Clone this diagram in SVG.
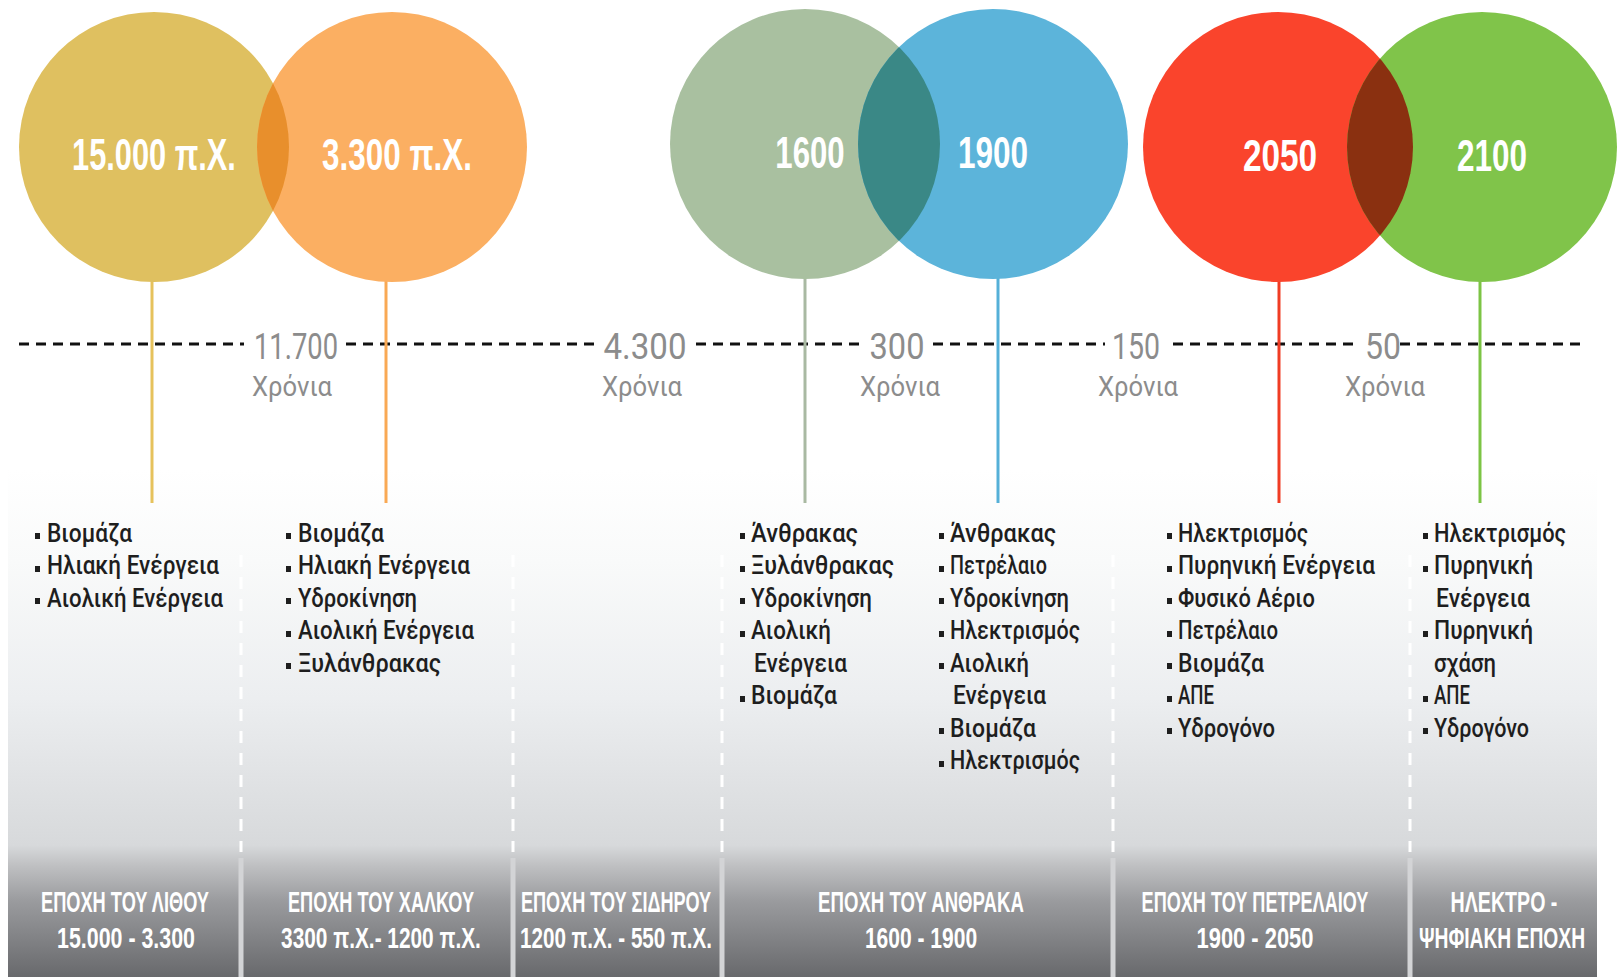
<svg xmlns="http://www.w3.org/2000/svg" width="1617" height="977" viewBox="0 0 1617 977">
  <defs>
    <linearGradient id="panelFill" gradientUnits="userSpaceOnUse" x1="0" y1="470" x2="0" y2="977">
      <stop offset="0" stop-color="#ffffff"/>
      <stop offset="0.18" stop-color="#f9fafa"/>
      <stop offset="0.45" stop-color="#eceef0"/>
      <stop offset="0.74" stop-color="#d7d9db"/>
      <stop offset="0.78" stop-color="#bfc0c2"/>
      <stop offset="0.85" stop-color="#9a9b9e"/>
      <stop offset="1" stop-color="#68696c"/>
    </linearGradient>
    <clipPath id="clipC2"><circle cx="392" cy="147" r="135"/></clipPath>
    <clipPath id="clipC4"><circle cx="993" cy="144" r="135"/></clipPath>
    <clipPath id="clipC6"><circle cx="1482" cy="147" r="135"/></clipPath>
  </defs>
  <style>
    .year { font-family: "Liberation Sans", Arial, sans-serif; font-weight: bold; font-size: 45px; fill: #ffffff; text-anchor: middle; }
    .gap { font-family: Roboto, "Liberation Sans", sans-serif; font-size: 36px; fill: #8c8c8c; text-anchor: middle; }
    .years { font-family: Roboto, "Liberation Sans", sans-serif; font-size: 28px; fill: #8c8c8c; text-anchor: middle; }
    .item { font-family: Roboto, "Noto Sans", sans-serif; font-weight: 500; font-size: 25px; fill: #1e1e1e; }
    .era { font-family: "Liberation Sans", Arial, sans-serif; font-weight: bold; font-size: 30px; fill: #ffffff; text-anchor: middle; }
    .dot { fill: #1e1e1e; }
    .timeline { stroke: #111111; stroke-width: 3; stroke-dasharray: 10 7; fill: none; }
    .stem { stroke-width: 3; fill: none; }
    .divDash { stroke: #ffffff; stroke-width: 3; stroke-dasharray: 12 10; fill: none; }
    .divSolid { fill: #d3d4d6; }
  </style>

  <!-- gradient panel behind the era columns -->
  <g id="panel">
    <rect x="8" y="470" width="1589" height="507" fill="url(#panelFill)"/>
    <line class="divDash" x1="241" y1="555" x2="241" y2="852"/>
    <line class="divDash" x1="513" y1="555" x2="513" y2="852"/>
    <line class="divDash" x1="722" y1="555" x2="722" y2="852"/>
    <line class="divDash" x1="1113" y1="555" x2="1113" y2="852"/>
    <line class="divDash" x1="1410" y1="555" x2="1410" y2="852"/>
    <rect class="divSolid" x="238.5" y="858" width="5" height="119"/>
    <rect class="divSolid" x="510.5" y="858" width="5" height="119"/>
    <rect class="divSolid" x="719.5" y="858" width="5" height="119"/>
    <rect class="divSolid" x="1110.5" y="858" width="5" height="119"/>
    <rect class="divSolid" x="1407.5" y="858" width="5" height="119"/>
  </g>

  <!-- timeline, stems and interval labels -->
  <g id="connectors">
    <line class="timeline" x1="19" y1="344" x2="244" y2="344"/>
    <line class="timeline" x1="346" y1="344" x2="594" y2="344"/>
    <line class="timeline" x1="696" y1="344" x2="864" y2="344"/>
    <line class="timeline" x1="933" y1="344" x2="1105" y2="344"/>
    <line class="timeline" x1="1173" y1="344" x2="1360" y2="344"/>
    <line class="timeline" x1="1400" y1="344" x2="1583" y2="344"/>

    <line class="stem" stroke="#e6c25c" x1="152" y1="260" x2="152" y2="503"/>
    <line class="stem" stroke="#f9a954" x1="386" y1="260" x2="386" y2="503"/>
    <line class="stem" stroke="#a9b9a2" x1="805" y1="260" x2="805" y2="503"/>
    <line class="stem" stroke="#55b0d8" x1="998" y1="260" x2="998" y2="503"/>
    <line class="stem" stroke="#f03c24" x1="1279" y1="260" x2="1279" y2="503"/>
    <line class="stem" stroke="#7cc444" x1="1480" y1="260" x2="1480" y2="503"/>

    <text class="gap" x="296" y="359" textLength="84" lengthAdjust="spacingAndGlyphs">11.700</text>
    <text class="years" x="292" y="396" textLength="80" lengthAdjust="spacingAndGlyphs">Χρόνια</text>
    <text class="gap" x="645" y="359" textLength="83" lengthAdjust="spacingAndGlyphs">4.300</text>
    <text class="years" x="642" y="396" textLength="80" lengthAdjust="spacingAndGlyphs">Χρόνια</text>
    <text class="gap" x="897" y="359" textLength="55" lengthAdjust="spacingAndGlyphs">300</text>
    <text class="years" x="900" y="396" textLength="80" lengthAdjust="spacingAndGlyphs">Χρόνια</text>
    <text class="gap" x="1136" y="359" textLength="48" lengthAdjust="spacingAndGlyphs">150</text>
    <text class="years" x="1138" y="396" textLength="80" lengthAdjust="spacingAndGlyphs">Χρόνια</text>
    <text class="gap" x="1383" y="359" textLength="36" lengthAdjust="spacingAndGlyphs">50</text>
    <text class="years" x="1385" y="396" textLength="80" lengthAdjust="spacingAndGlyphs">Χρόνια</text>
  </g>

  <!-- year circles; labels are narrowed with a horizontal scale -->
  <g id="circle-15000">
    <circle cx="154" cy="147" r="135" fill="#dfc060"/>
    <text class="year" transform="translate(154,170) scale(0.7,1)" textLength="234" lengthAdjust="spacingAndGlyphs">15.000 π.Χ.</text>
  </g>
  <g id="circle-3300">
    <circle cx="392" cy="147" r="135" fill="#fbaf62"/>
    <circle cx="154" cy="147" r="135" fill="#e88f2c" clip-path="url(#clipC2)"/>
    <text class="year" transform="translate(397,170) scale(0.7,1)" textLength="214" lengthAdjust="spacingAndGlyphs">3.300 π.Χ.</text>
  </g>
  <g id="circle-1600">
    <circle cx="805" cy="144" r="135" fill="#a9c0a0"/>
    <text class="year" transform="translate(810,168) scale(0.7,1)" textLength="99" lengthAdjust="spacingAndGlyphs">1600</text>
  </g>
  <g id="circle-1900">
    <circle cx="993" cy="144" r="135" fill="#5cb4da"/>
    <circle cx="805" cy="144" r="135" fill="#3a8886" clip-path="url(#clipC4)"/>
    <text class="year" transform="translate(993,168) scale(0.7,1)" textLength="100" lengthAdjust="spacingAndGlyphs">1900</text>
  </g>
  <g id="circle-2050">
    <circle cx="1278" cy="147" r="135" fill="#fa442c"/>
    <text class="year" transform="translate(1280,171) scale(0.7,1)" textLength="106" lengthAdjust="spacingAndGlyphs">2050</text>
  </g>
  <g id="circle-2100">
    <circle cx="1482" cy="147" r="135" fill="#80c44a"/>
    <circle cx="1278" cy="147" r="135" fill="#8a3010" clip-path="url(#clipC6)"/>
    <text class="year" transform="translate(1492,171) scale(0.7,1)" textLength="100" lengthAdjust="spacingAndGlyphs">2100</text>
  </g>

  <!-- era: stone -->
  <g id="era-stone">
    <rect class="dot" x="35" y="533" width="5" height="6"/>
    <text class="item" x="47" y="542" textLength="85" lengthAdjust="spacingAndGlyphs">Βιομάζα</text>
    <rect class="dot" x="35" y="566" width="5" height="6"/>
    <text class="item" x="47" y="574" textLength="172" lengthAdjust="spacingAndGlyphs">Ηλιακή Ενέργεια</text>
    <rect class="dot" x="35" y="598" width="5" height="6"/>
    <text class="item" x="47" y="607" textLength="176" lengthAdjust="spacingAndGlyphs">Αιολική Ενέργεια</text>
    <text class="era" transform="translate(125,912) scale(0.6,1)" textLength="280" lengthAdjust="spacingAndGlyphs">ΕΠΟΧΗ ΤΟΥ ΛΙΘΟΥ</text>
    <text class="era" transform="translate(126,948) scale(0.6,1)" textLength="230" lengthAdjust="spacingAndGlyphs">15.000 - 3.300</text>
  </g>

  <!-- era: bronze -->
  <g id="era-bronze">
    <rect class="dot" x="286" y="533" width="5" height="6"/>
    <text class="item" x="298" y="542" textLength="86" lengthAdjust="spacingAndGlyphs">Βιομάζα</text>
    <rect class="dot" x="286" y="566" width="5" height="6"/>
    <text class="item" x="298" y="574" textLength="172" lengthAdjust="spacingAndGlyphs">Ηλιακή Ενέργεια</text>
    <rect class="dot" x="286" y="598" width="5" height="6"/>
    <text class="item" x="298" y="607" textLength="119" lengthAdjust="spacingAndGlyphs">Υδροκίνηση</text>
    <rect class="dot" x="286" y="631" width="5" height="6"/>
    <text class="item" x="298" y="639" textLength="176" lengthAdjust="spacingAndGlyphs">Αιολική Ενέργεια</text>
    <rect class="dot" x="286" y="663" width="5" height="6"/>
    <text class="item" x="298" y="672" textLength="143" lengthAdjust="spacingAndGlyphs">Ξυλάνθρακας</text>
    <text class="era" transform="translate(381,912) scale(0.6,1)" textLength="310" lengthAdjust="spacingAndGlyphs">ΕΠΟΧΗ ΤΟΥ ΧΑΛΚΟΥ</text>
    <text class="era" transform="translate(381,948) scale(0.6,1)" textLength="333" lengthAdjust="spacingAndGlyphs">3300 π.Χ.- 1200 π.Χ.</text>
  </g>

  <!-- era: iron -->
  <g id="era-iron">
    <text class="era" transform="translate(616,912) scale(0.6,1)" textLength="317" lengthAdjust="spacingAndGlyphs">ΕΠΟΧΗ ΤΟΥ ΣΙΔΗΡΟΥ</text>
    <text class="era" transform="translate(616,948) scale(0.6,1)" textLength="320" lengthAdjust="spacingAndGlyphs">1200 π.Χ. - 550 π.Χ.</text>
  </g>

  <!-- era: coal, two lists -->
  <g id="era-coal">
    <rect class="dot" x="740" y="533" width="5" height="6"/>
    <text class="item" x="751" y="542" textLength="107" lengthAdjust="spacingAndGlyphs">Άνθρακας</text>
    <rect class="dot" x="740" y="566" width="5" height="6"/>
    <text class="item" x="751" y="574" textLength="143" lengthAdjust="spacingAndGlyphs">Ξυλάνθρακας</text>
    <rect class="dot" x="740" y="598" width="5" height="6"/>
    <text class="item" x="751" y="607" textLength="121" lengthAdjust="spacingAndGlyphs">Υδροκίνηση</text>
    <rect class="dot" x="740" y="631" width="5" height="6"/>
    <text class="item" x="751" y="639" textLength="80" lengthAdjust="spacingAndGlyphs">Αιολική</text>
    <text class="item" x="754" y="672" textLength="93" lengthAdjust="spacingAndGlyphs">Ενέργεια</text>
    <rect class="dot" x="740" y="696" width="5" height="6"/>
    <text class="item" x="751" y="704" textLength="86" lengthAdjust="spacingAndGlyphs">Βιομάζα</text>

    <rect class="dot" x="939" y="533" width="5" height="6"/>
    <text class="item" x="950" y="542" textLength="106" lengthAdjust="spacingAndGlyphs">Άνθρακας</text>
    <rect class="dot" x="939" y="566" width="5" height="6"/>
    <text class="item" x="950" y="574" textLength="97" lengthAdjust="spacingAndGlyphs">Πετρέλαιο</text>
    <rect class="dot" x="939" y="598" width="5" height="6"/>
    <text class="item" x="950" y="607" textLength="119" lengthAdjust="spacingAndGlyphs">Υδροκίνηση</text>
    <rect class="dot" x="939" y="631" width="5" height="6"/>
    <text class="item" x="950" y="639" textLength="130" lengthAdjust="spacingAndGlyphs">Ηλεκτρισμός</text>
    <rect class="dot" x="939" y="663" width="5" height="6"/>
    <text class="item" x="950" y="672" textLength="79" lengthAdjust="spacingAndGlyphs">Αιολική</text>
    <text class="item" x="953" y="704" textLength="93" lengthAdjust="spacingAndGlyphs">Ενέργεια</text>
    <rect class="dot" x="939" y="728" width="5" height="6"/>
    <text class="item" x="950" y="737" textLength="86" lengthAdjust="spacingAndGlyphs">Βιομάζα</text>
    <rect class="dot" x="939" y="761" width="5" height="6"/>
    <text class="item" x="950" y="769" textLength="130" lengthAdjust="spacingAndGlyphs">Ηλεκτρισμός</text>

    <text class="era" transform="translate(921,912) scale(0.6,1)" textLength="343" lengthAdjust="spacingAndGlyphs">ΕΠΟΧΗ ΤΟΥ ΑΝΘΡΑΚΑ</text>
    <text class="era" transform="translate(921,948) scale(0.6,1)" textLength="187" lengthAdjust="spacingAndGlyphs">1600 - 1900</text>
  </g>

  <!-- era: oil -->
  <g id="era-oil">
    <rect class="dot" x="1167" y="533" width="5" height="6"/>
    <text class="item" x="1178" y="542" textLength="130" lengthAdjust="spacingAndGlyphs">Ηλεκτρισμός</text>
    <rect class="dot" x="1167" y="566" width="5" height="6"/>
    <text class="item" x="1178" y="574" textLength="197" lengthAdjust="spacingAndGlyphs">Πυρηνική Ενέργεια</text>
    <rect class="dot" x="1167" y="598" width="5" height="6"/>
    <text class="item" x="1178" y="607" textLength="137" lengthAdjust="spacingAndGlyphs">Φυσικό Αέριο</text>
    <rect class="dot" x="1167" y="631" width="5" height="6"/>
    <text class="item" x="1178" y="639" textLength="100" lengthAdjust="spacingAndGlyphs">Πετρέλαιο</text>
    <rect class="dot" x="1167" y="663" width="5" height="6"/>
    <text class="item" x="1178" y="672" textLength="86" lengthAdjust="spacingAndGlyphs">Βιομάζα</text>
    <rect class="dot" x="1167" y="696" width="5" height="6"/>
    <text class="item" x="1178" y="704" textLength="36" lengthAdjust="spacingAndGlyphs">ΑΠΕ</text>
    <rect class="dot" x="1167" y="728" width="5" height="6"/>
    <text class="item" x="1178" y="737" textLength="97" lengthAdjust="spacingAndGlyphs">Υδρογόνο</text>
    <text class="era" transform="translate(1255,912) scale(0.6,1)" textLength="378" lengthAdjust="spacingAndGlyphs">ΕΠΟΧΗ ΤΟΥ ΠΕΤΡΕΛΑΙΟΥ</text>
    <text class="era" transform="translate(1255,948) scale(0.6,1)" textLength="195" lengthAdjust="spacingAndGlyphs">1900 - 2050</text>
  </g>

  <!-- era: electro-digital -->
  <g id="era-digital">
    <rect class="dot" x="1423" y="533" width="5" height="6"/>
    <text class="item" x="1434" y="542" textLength="132" lengthAdjust="spacingAndGlyphs">Ηλεκτρισμός</text>
    <rect class="dot" x="1423" y="566" width="5" height="6"/>
    <text class="item" x="1434" y="574" textLength="99" lengthAdjust="spacingAndGlyphs">Πυρηνική</text>
    <text class="item" x="1436" y="607" textLength="94" lengthAdjust="spacingAndGlyphs">Ενέργεια</text>
    <rect class="dot" x="1423" y="631" width="5" height="6"/>
    <text class="item" x="1434" y="639" textLength="99" lengthAdjust="spacingAndGlyphs">Πυρηνική</text>
    <text class="item" x="1434" y="672" textLength="62" lengthAdjust="spacingAndGlyphs">σχάση</text>
    <rect class="dot" x="1423" y="696" width="5" height="6"/>
    <text class="item" x="1434" y="704" textLength="36" lengthAdjust="spacingAndGlyphs">ΑΠΕ</text>
    <rect class="dot" x="1423" y="728" width="5" height="6"/>
    <text class="item" x="1434" y="737" textLength="95" lengthAdjust="spacingAndGlyphs">Υδρογόνο</text>
    <text class="era" transform="translate(1504,912) scale(0.6,1)" textLength="178" lengthAdjust="spacingAndGlyphs">ΗΛΕΚΤΡΟ -</text>
    <text class="era" transform="translate(1502,948) scale(0.6,1)" textLength="277" lengthAdjust="spacingAndGlyphs">ΨΗΦΙΑΚΗ ΕΠΟΧΗ</text>
  </g>
</svg>
